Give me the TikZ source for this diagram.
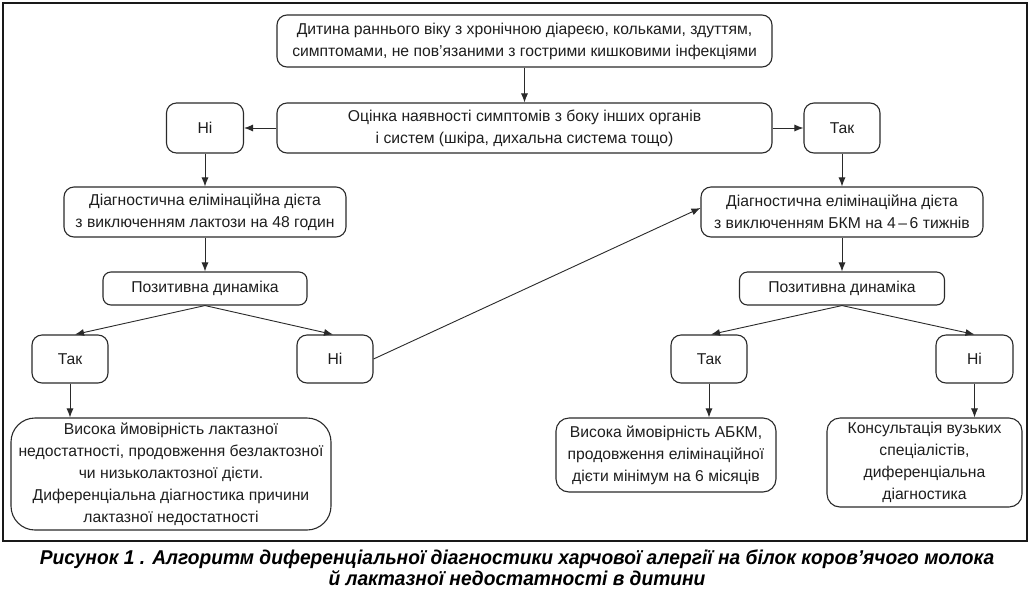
\documentclass[tikz,border=0pt]{standalone}
\usepackage{fontspec}
\setmainfont{Liberation Sans}
\usetikzlibrary{arrows.meta,calc}
\definecolor{ln}{HTML}{2A2A2A}
\definecolor{tx}{HTML}{1E1E1E}
\begin{document}
\begin{tikzpicture}[x=1pt,y=-1pt,
  box/.style={draw=ln,line width=1.1pt,rounded corners=10pt,align=center,
    inner sep=0pt,text=tx,font=\fontsize{15.7}{22}\selectfont},
  arr/.style={draw=ln,line width=0.9pt,-{Latex[length=9pt,width=7pt]}}]
\useasboundingbox (0,0) rectangle (1033,590);
\fill[white] (0,0) rectangle (1033,590);
\draw[line width=1.6pt,black!90] (3,3) rectangle (1027,541);
% nodes
\node[box,minimum width=495pt,minimum height=52pt] (top) at (524.5,41)
  {Дитина раннього віку з хронічною діареєю, кольками, здуттям,\\симптомами, не пов’язаними з гострими кишковими інфекціями};
\node[box,minimum width=495pt,minimum height=50pt] (oc) at (524.5,128)
  {Оцінка наявності симптомів з боку інших органів\\і систем (шкіра, дихальна система тощо)};
\node[box,minimum width=77pt,minimum height=50pt] (niA) at (205,128) {Ні};
\node[box,minimum width=76pt,minimum height=50pt] (takA) at (842,128) {Так};
\node[box,minimum width=282pt,minimum height=50pt] (dietL) at (205,212)
  {Діагностична елімінаційна дієта\\з виключенням лактози на 48 годин};
\node[box,minimum width=282pt,minimum height=50pt] (dietR) at (842,212)
  {Діагностична елімінаційна дієта\\з виключенням БКМ на 4\,–\,6 тижнів};
\node[box,minimum width=204pt,minimum height=33pt,rounded corners=8pt] (posL) at (205,288.5) {Позитивна динаміка};
\node[box,minimum width=205pt,minimum height=33pt,rounded corners=8pt] (posR) at (842,288.5) {Позитивна динаміка};
\node[box,minimum width=76pt,minimum height=48pt] (takL) at (70,359) {Так};
\node[box,minimum width=76pt,minimum height=48pt] (niL) at (335,359) {Ні};
\node[box,minimum width=76pt,minimum height=48pt] (takR) at (709,359) {Так};
\node[box,minimum width=77pt,minimum height=48pt] (niR) at (974.5,359) {Ні};
\node[box,minimum width=320pt,minimum height=112pt,rounded corners=24pt] (resL) at (171,474)
  {Висока ймовірність лактазної\\недостатності, продовження безлактозної\\чи низьколактозної дієти.\\Диференціальна діагностика причини\\лактазної недостатності};
\node[box,minimum width=220pt,minimum height=74pt,rounded corners=13pt] (resR) at (666,455)
  {Висока ймовірність АБКМ,\\продовження елімінаційної\\дієти мінімум на 6 місяців};
\node[box,minimum width=195pt,minimum height=89pt,rounded corners=13pt] (resN) at (924.5,462.5)
  {Консультація вузьких\\спеціалістів,\\диференціальна\\діагностика};
% connectors
\draw[arr] (top) -- (oc);
\draw[arr] (oc) -- (niA);
\draw[arr] (oc) -- (takA);
\draw[arr] (niA) -- (dietL);
\draw[arr] (dietL) -- (posL);
\draw[arr] (posL.south) -- ($(takL.north)+(5,0)$);
\draw[arr] (posL.south) -- ($(niL.north)+(-2,0)$);
\draw[arr] (takL.south) -- (takL.south |- resL.north);
\draw[arr] (niL.east) -- ($(dietR.west)+(0,-4)$);
\draw[arr] (takA) -- (dietR);
\draw[arr] (dietR) -- (posR);
\draw[arr] (posR.south) -- ($(takR.north)+(2,0)$);
\draw[arr] (posR.south) -- ($(niR.north)+(0,0)$);
\draw[arr] (takR.south) -- (takR.south |- resR.north);
\draw[arr] (niR.south) -- (niR.south |- resN.north);
% caption
\node[font=\fontsize{20}{21}\selectfont\bfseries\itshape,text=black,align=center,inner sep=0pt] (cap) at (517,568)
  {\scalebox{0.96}[1]{Рисунок 1 . Алгоритм диференціальної діагностики харчової алергії на білок коров’ячого молока}\\[0pt]
   \scalebox{0.96}[1]{й лактазної недостатності в дитини}};
\end{tikzpicture}
\end{document}
